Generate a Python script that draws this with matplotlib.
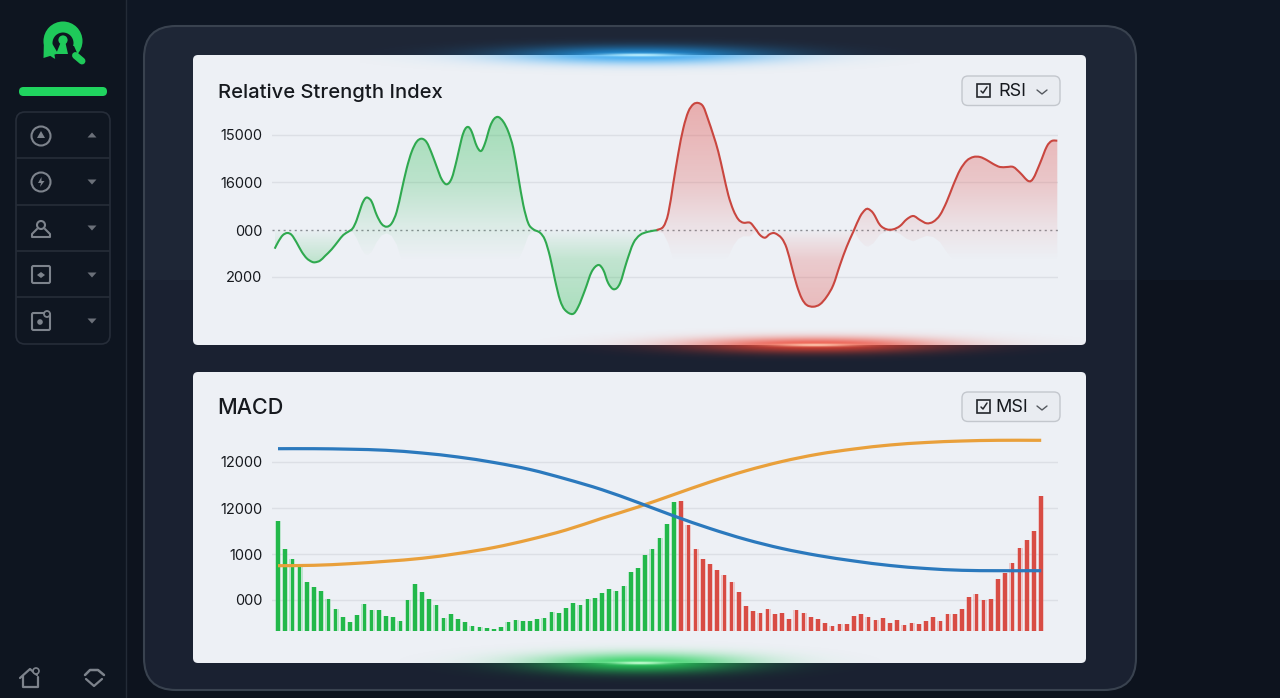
import numpy as np
import matplotlib
matplotlib.use('Agg')
import matplotlib.pyplot as plt
from matplotlib.patches import FancyBboxPatch, Circle, Polygon, Rectangle, PathPatch
from matplotlib.path import Path

plt.rcParams['font.family'] = ['Inter', 'DejaVu Sans']

# --- RSI chart values ---
rsi_tick_pos = [9600, 4850, 50, -4600]
rsi_tick_labels = ['15000', '16000', '000', '2000']

green_x = [-0.3, 3.3, 7.7, 12.3, 16.7, 21.7, 26.7, 31.7, 36.7, 40, 45, 50, 56.7, 63.3, 68.3, 73.3,
           77.7, 81.7, 86.7, 90, 92.7, 96.7, 101.7, 106.7, 111.7, 116.7, 121.7, 126.7, 131.7,
           136.7, 141.7, 146.7, 151.7, 156.7, 161.7, 166.7, 171.7, 176.7, 181.7, 186.7, 190,
           193.3, 196.7, 201.7, 206, 210, 215, 219, 223.3, 228.3, 233.3, 238.3, 243.3, 248.3,
           253.3, 258.3, 265, 270, 275, 280, 285, 290, 297.7, 303.3, 310, 316.7, 323.3, 328.3,
           333.3, 339, 345, 351.7, 358.3, 365, 373.3, 383.3]
green_y = [-1820, -1120, -480, -250, -450, -1220, -2120, -2780, -3120, -3180, -3020, -2550, -1880,
           -1050, -450, -120, 220, 1050, 2550, 3180, 3280, 2880, 1550, 650, 380, 720, 1880, 4050,
           6220, 7880, 8880, 9180, 8820, 7720, 6380, 5120, 4620, 5220, 7050, 9220, 10120, 10350,
           9880, 8450, 7950, 8720, 10380, 11150, 11350, 10880, 9880, 8220, 5380, 2550, 720, 120,
           -220, -950, -2620, -4950, -6950, -7950, -8350, -7620, -5950, -4120, -3450, -3950,
           -5280, -5880, -5280, -3120, -1280, -450, -120, 50]

red_x = [381.7, 388.3, 393.3, 398.3, 403.3, 408.3, 413.3, 418.3, 423.3, 428.3, 433.3, 438.3, 443.3,
         448.3, 453.3, 458.3, 463.3, 468.3, 475, 480, 485, 490, 495, 500, 506.7, 511.7, 516.7,
         521.7, 526.7, 531.7, 538.3, 545, 551.7, 558.3, 565, 571.7, 578.3, 585, 590, 593.3, 598.3,
         605, 611.7, 618.3, 625, 631.7, 638.3, 645, 651.7, 658.3, 665, 671.7, 678.3, 685, 691.7,
         698.3, 705, 711.7, 718.3, 725, 731.7, 738.3, 745, 753.3, 758.3, 765, 771.7, 776.7, 782.3]
red_y = [50, 380, 1720, 4720, 7720, 10220, 11880, 12620, 12750, 12380, 11050, 9550, 7880, 5720,
         3550, 2050, 1120, 780, 780, 220, -450, -720, -350, -280, -780, -1780, -3620, -5450, -6780,
         -7450, -7620, -7380, -6620, -5450, -3450, -1620, -120, 1380, 2050, 2150, 1720, 550, 120,
         120, 450, 1120, 1450, 1050, 720, 880, 1550, 2880, 4550, 6050, 6980, 7350, 7350, 7050,
         6650, 6350, 6350, 6350, 5780, 4950, 5220, 6720, 8380, 8950, 8980]

# --- MACD chart values ---
macd_tick_pos = [1695, 1230, 770, 315]
macd_tick_labels = ['12000', '12000', '1000', '000']

green_bars = [1103, 820, 717, 650, 493, 443, 403, 320, 220, 140, 93, 163, 273, 207, 210, 147, 140,
              97, 307, 473, 393, 320, 257, 133, 167, 120, 90, 50, 37, 30, 17, 37, 90, 107, 103, 103,
              123, 130, 187, 177, 230, 283, 257, 323, 330, 383, 423, 403, 447, 587, 627, 763, 823,
              930, 1073, 1293]
red_bars = [1303, 1060, 817, 720, 667, 613, 557, 490, 393, 253, 203, 177, 220, 167, 177, 120, 213,
            177, 140, 120, 77, 47, 73, 73, 150, 173, 140, 110, 130, 77, 107, 63, 83, 73, 100, 140,
            103, 167, 167, 217, 343, 370, 310, 323, 520, 580, 677, 833, 913, 997, 1350]

line_idx = [0, 5, 10, 15, 20, 25, 30, 35, 40, 45, 50, 55, 60, 65, 70, 75, 80, 85, 90, 95, 100, 105, 106]
blue_line = [1823, 1823, 1818, 1807, 1780, 1740, 1685, 1615, 1520, 1413, 1285, 1150, 1025, 915, 825,
             755, 700, 655, 625, 607, 603, 603, 603]
orange_line = [653, 657, 673, 697, 727, 775, 835, 915, 1010, 1127, 1240, 1365, 1490, 1602, 1695, 1768,
               1820, 1860, 1885, 1900, 1907, 1907, 1907]

W, H = 1280, 698
TEXT = '#16191e'
GRID = '#dcdfe5'
GREEN = '#2fa94f'
RED = '#c9463f'

fig = plt.figure(figsize=(W / 100, H / 100), dpi=100, facecolor='#0e1520')

# background axis in pixel units, holds all the chrome
bg = fig.add_axes([0, 0, 1, 1])
bg.set_xlim(0, W)
bg.set_ylim(H, 0)
bg.axis('off')


def rbox(x0, y0, x1, y1, r, fc, ec='none', lw=1, z=1):
    p = FancyBboxPatch((x0 + r, y0 + r), x1 - x0 - 2 * r, y1 - y0 - 2 * r,
                       boxstyle='round,pad=%s,rounding_size=%s' % (r, r),
                       fc=fc, ec=ec, lw=lw, zorder=z)
    bg.add_patch(p)
    return p


def icon_line(xs, ys, color='#7d838c', lw=1.4, z=8):
    bg.plot(xs, ys, color=color, lw=lw, zorder=z, solid_capstyle='round', solid_joinstyle='round')


def glow(cx, cy, rgb, sx, sy, peak, x0, x1, y0, y1, z=6):
    xx, yy = np.meshgrid(np.linspace(x0, x1, 300), np.linspace(y0, y1, 80))
    a = peak * np.exp(-((xx - cx) / sx) ** 2 - ((yy - cy) / sy) ** 2)
    img = np.zeros(xx.shape + (4,))
    img[..., :3] = rgb
    img[..., 3] = np.clip(a, 0, 1)
    bg.imshow(img, extent=[x0, x1, y1, y0], aspect='auto', zorder=z, interpolation='bilinear')


# page and big panel
bg.add_patch(Rectangle((0, 0), W, H, fc='#0e1520', ec='none', zorder=0))
bg.add_patch(Rectangle((126, 0), W - 126, 280, fc='#0f1724', ec='none', zorder=0))
bg.add_patch(Rectangle((126, 280), W - 126, H - 280, fc='#0d131e', ec='none', zorder=0))
bg.plot([126, 126], [0, H], color='#232b37', lw=1, zorder=1)
rbox(144, 26, 1136, 690, 32, '#1e2636', z=1)
# darker lower half, inside the border
lower = bg.add_patch(Rectangle((144, 280), 992, 410, fc='#1a2131', ec='none', zorder=1.5))
lower.set_clip_path(rbox(144, 26, 1136, 690, 32, 'none', z=1.4))
rbox(144, 26, 1136, 690, 32, 'none', ec='#39424f', lw=1.5, z=1.6)

# white cards
rbox(193, 55, 1086, 345, 5, '#edf0f5', z=2)
rbox(193, 372, 1086, 663, 5, '#edf0f5', z=2)

# glows on the card edges
glow(640, 55, (0.12, 0.62, 0.95), 130, 9, 0.85, 360, 920, 26, 84)
glow(640, 55, (0.75, 0.95, 1.0), 40, 1.6, 1.0, 540, 740, 48, 62, z=7)
glow(815, 345, (0.93, 0.27, 0.2), 125, 8, 0.9, 540, 1090, 318, 372)
glow(815, 345, (1.0, 0.8, 0.7), 40, 1.5, 1.0, 720, 910, 338, 352, z=7)
glow(640, 663, (0.15, 0.82, 0.36), 105, 10, 0.9, 400, 880, 638, 688)
glow(640, 663, (0.8, 1.0, 0.85), 28, 1.5, 1.0, 570, 710, 656, 670, z=7)

# titles
bg.text(218, 93, 'Relative Strength Index', fontsize=14.5, color=TEXT, va='center', ha='left',
        fontweight='medium', zorder=9)
bg.text(217, 408, 'MACD', fontsize=15.5, color=TEXT, va='center', ha='left', fontweight='medium', zorder=9)

# dropdown buttons
for top, label, tx in [(76, 'RSI', 1012.5), (392, 'MSI', 1012)]:
    rbox(962, top, 1060, top + 29.5, 6, '#e9ecf1', ec='#c3c7cd', lw=1, z=8)
    bg.add_patch(Rectangle((977, top + 8), 13, 13, fc='none', ec='#24272c', lw=1.2, zorder=9))
    icon_line([981, 983, 987], [top + 15, top + 17, top + 11], color='#24272c', lw=1.1, z=9)
    bg.text(tx, top + 15.5, label, fontsize=13, color=TEXT, va='center', ha='center', zorder=9)
    icon_line([1037, 1042, 1047], [top + 14, top + 18, top + 14], color='#55595f', lw=1.0, z=9)

# sidebar: logo
lg = '#1fc95a'
dark = '#0e1520'
bg.add_patch(Circle((63, 41), 19.5, fc=lg, ec='none', zorder=4))
bg.add_patch(Circle((63, 43), 10.5, fc=dark, ec='none', zorder=5))
bg.add_patch(Polygon([(53, 46), (74, 46), (82, 64), (56, 64)], fc=dark, ec='none', zorder=5))
bg.add_patch(Polygon([(44, 38), (43.5, 58), (58, 53.5), (53, 45)], fc=lg, ec='none', zorder=5.5))
bg.add_patch(Circle((63, 40), 4.6, fc=lg, ec='none', zorder=6))
bg.add_patch(Polygon([(60.5, 43), (65.5, 43), (68, 54), (56, 54)], fc=lg, ec='none', zorder=6))
bg.plot([75.5, 82], [55.5, 61], color=lg, lw=5, solid_capstyle='round', zorder=6)

# sidebar: green pill and menu
rbox(19, 87, 107, 96, 4.4, '#20d45f', z=4)
rbox(16, 112, 110, 344, 9, '#0f1621', ec='#262d39', lw=1.2, z=3)
for yy in [158, 205, 251, 297]:
    bg.plot([17, 109], [yy, yy], color='#262d39', lw=1.2, zorder=4)
for i, yy in enumerate([135, 182, 228, 275, 321]):
    pts = [(87.5, yy + 2.5), (96.5, yy + 2.5), (92, yy - 2.5)] if i == 0 else \
        [(87.5, yy - 2.5), (96.5, yy - 2.5), (92, yy + 2.5)]
    bg.add_patch(Polygon(pts, fc='#6b7079', ec='none', zorder=5))

ic = '#7d838c'
for cy in [136, 182]:
    bg.add_patch(Circle((41, cy), 9.5, fc='none', ec=ic, lw=1.5, zorder=8))
bg.add_patch(Polygon([(41, 131), (45, 138), (37, 138)], fc=ic, ec='none', zorder=8))
bg.add_patch(Polygon([(41.5, 177), (38, 183), (41, 183), (40, 187), (44.5, 181), (41.5, 181)], fc=ic, ec='none', zorder=8))
bg.add_patch(Circle((41, 225), 4, fc='none', ec=ic, lw=1.5, zorder=8))
icon_line([37, 32, 32, 50, 50, 45], [229, 234, 237, 237, 234, 229], lw=1.5)
bg.add_patch(FancyBboxPatch((32, 266), 18, 17, boxstyle='round,pad=0,rounding_size=1.5', fc='none', ec=ic, lw=1.5, zorder=8))
bg.add_patch(Polygon([(37, 275), (41, 272), (45, 275), (41, 278)], fc=ic, ec='none', zorder=8))
bg.add_patch(FancyBboxPatch((32, 313), 18, 17, boxstyle='round,pad=0,rounding_size=1.5', fc='none', ec=ic, lw=1.5, zorder=8))
bg.add_patch(Circle((47, 314), 3, fc='#0f1621', ec=ic, lw=1.3, zorder=9))
bg.add_patch(Circle((40, 322), 2.8, fc=ic, ec='none', zorder=8))

# sidebar: bottom icons
icon_line([20, 30, 37], [678, 669, 675], lw=1.6)
icon_line([23, 23, 38, 38], [676, 687, 687, 677], lw=1.6)
bg.add_patch(Circle((36, 671), 3, fc='#0e1520', ec=ic, lw=1.2, zorder=9))
icon_line([86, 94, 102], [679, 686, 679], lw=1.6)
icon_line([85, 90, 98, 104], [675, 670, 670, 675], lw=1.8)


def smooth_line(ax, xs, ys, color, lw, z):
    # bezier through the read points, so the curve has no corners
    p = np.column_stack([xs, ys]).astype(float)
    q = np.vstack([p[0], p, p[-1]])
    verts = [p[0]]
    codes = [Path.MOVETO]
    for i in range(1, len(q) - 2):
        verts += [q[i] + (q[i + 1] - q[i - 1]) / 6, q[i + 1] - (q[i + 2] - q[i]) / 6, q[i + 1]]
        codes += [Path.CURVE4] * 3
    ax.add_patch(PathPatch(Path(verts, codes), fc='none', ec=color, lw=lw, zorder=z, capstyle='butt'))


def gradient_area(ax, x, top, bottom, where, rgb, vals, alphas):
    poly = ax.fill_between(x, top, bottom, where=where, interpolate=True, color='none', lw=0)
    clip = Path.make_compound_path(*poly.get_paths())
    ys = np.linspace(-9000, 13000, 256)
    img = np.zeros((256, 1, 4))
    img[..., :3] = rgb
    img[:, 0, 3] = np.interp(ys, vals, alphas)
    im = ax.imshow(img, extent=[min(x), max(x), -9000, 13000], origin='lower', aspect='auto',
                   zorder=1, interpolation='bilinear')
    im.set_clip_path(clip, transform=ax.transData)


# --- RSI chart ---
ax1 = fig.add_axes([272 / W, 1 - 320 / H, 786 / W, 220 / H], zorder=5)
ax1.patch.set_alpha(0)

for xs, ys, fill, col in [(green_x, green_y, (0.2, 0.75, 0.35), GREEN), (red_x, red_y, (0.89, 0.33, 0.31), RED)]:
    xa, ya = np.array(xs), np.array(ys)
    # the fade under a hump narrows towards its ends, so there are no hard side edges
    fade = -3000 * np.clip(ya / 4000, 0, 1)
    gradient_area(ax1, xa, ya, fade, ya > 0, fill, [-3000, 0, 5000, 12500], [0, 0.08, 0.27, 0.42])
    gradient_area(ax1, xa, 0, ya, ya < 0, fill, [-8500, -3000, -1500, 0], [0.36, 0.24, 0.13, 0.02])
    smooth_line(ax1, xa, ya, col, 1.5, 3)

ax1.set_xlim(-3, 783)
ax1.set_ylim(-8950, 13050)
ax1.set_yticks(rsi_tick_pos)
ax1.set_yticklabels(rsi_tick_labels)
ax1.set_xticks([])
ax1.grid(axis='y', color=GRID, lw=1)
ax1.set_axisbelow(True)
ax1.get_ygridlines()[2].set(color='#8b8f95', lw=1, linestyle=(0, (1.5, 2.5)))
ax1.tick_params(axis='y', length=0, pad=6.8, labelsize=10.5, labelcolor=TEXT)
for s in ax1.spines.values():
    s.set_visible(False)

# --- MACD chart ---
ax2 = fig.add_axes([272 / W, 1 - 640 / H, 786 / W, 210 / H], zorder=5)
ax2.patch.set_alpha(0)

gx = np.arange(len(green_bars))
rx = np.arange(len(green_bars), len(green_bars) + len(red_bars))
ax2.bar(gx, green_bars, width=0.85, color='#3fcb67', alpha=0.28, zorder=1.5)
ax2.bar(rx, red_bars, width=0.85, color='#e8655f', alpha=0.28, zorder=1.5)
ax2.bar(gx, green_bars, width=0.5, color='#22b84a', zorder=2)
ax2.bar(rx, red_bars, width=0.5, color='#d84c44', zorder=2)
smooth_line(ax2, line_idx, orange_line, '#e9a03b', 2.3, 3)
smooth_line(ax2, line_idx, blue_line, '#2b79bd', 2.3, 4)

ax2.set_xlim((272 - 278) / 7.2, (1058 - 278) / 7.2)
ax2.set_ylim(-90, 2010)
ax2.set_yticks(macd_tick_pos)
ax2.set_yticklabels(macd_tick_labels)
ax2.set_xticks([])
ax2.grid(axis='y', color=GRID, lw=1)
ax2.set_axisbelow(True)
ax2.tick_params(axis='y', length=0, pad=6.8, labelsize=10.5, labelcolor=TEXT)
for s in ax2.spines.values():
    s.set_visible(False)

bg.set_xlim(0, W)
bg.set_ylim(H, 0)
fig.savefig('out.png', dpi=100)
